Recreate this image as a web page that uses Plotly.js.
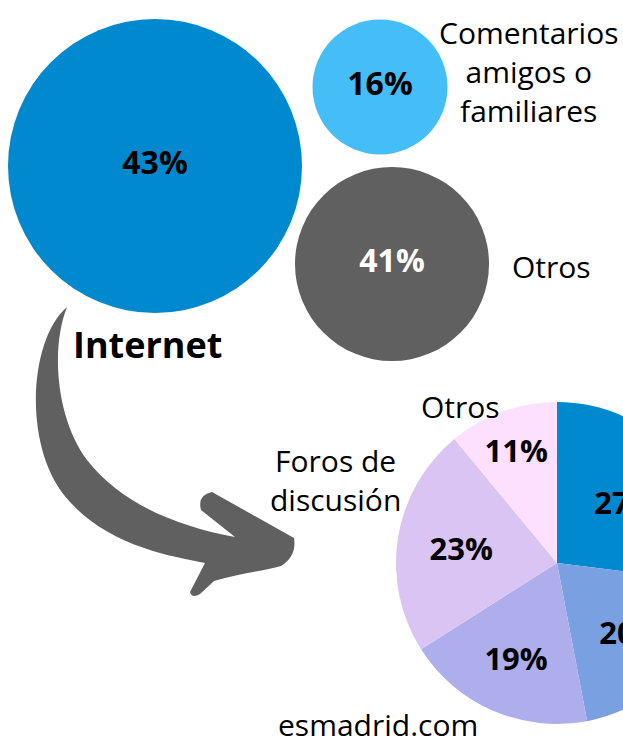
<!DOCTYPE html>
<html><head><meta charset="utf-8">
<script src="https://cdn.plot.ly/plotly-3.0.1.min.js"></script>
<style>html,body{margin:0;padding:0;overflow:hidden;background:#fff;width:623px;height:741px}</style>
</head><body><div id="chart"></div>
<script>
// Data
const bubbleLabels = ["Internet", "Comentarios<br>amigos o<br>familiares", "Otros"];
const bubbleValues = [43, 16, 41];
const pieLabels = ["", "", "esmadrid.com", "Foros de<br>discusión", "Otros"];
const pieValues = [27, 20, 19, 23, 11];

// Styles / layout
const W = 740, H = 741;
const bubbleX = [155, 380, 392];
const bubbleY = [166, 87, 264];
const bubbleD = [294, 135, 194];
const bubbleColors = ["#0089cf", "#45bdf7", "#606060"];
const bubbleTextColors = ["#000000", "#000000", "#ffffff"];
const bubbleLabelPos = [[147, 344, 36, 700], [529, 71, 30, 400], [551, 266, 30, 400]];
const pieColors = ["#0089cf", "#79a0e1", "#aeaeec", "#dac4f3", "#fde0fd"];
const pieLabelPos = [null, null, [378, 724], [335, 480], [460, 406]];
const FONT = "Open Sans";

const bubbleTrace = {
  type: "scatter", mode: "markers+text",
  x: bubbleX, y: bubbleY,
  text: bubbleValues.map(v => v + "%"),
  textposition: "middle center",
  textfont: {family: FONT, size: 32, weight: 700, color: bubbleTextColors},
  marker: {size: bubbleD, sizemode: "diameter", color: bubbleColors, line: {width: 0}, opacity: 1},
  cliponaxis: false, hoverinfo: "skip", showlegend: false
};

const pieTrace = {
  type: "pie", values: pieValues, labels: pieValues.map((v, i) => "s" + i),
  sort: false, direction: "clockwise", rotation: 0,
  marker: {colors: pieColors, line: {width: 0}},
  texttemplate: "%{value}%", textposition: "inside", insidetextorientation: "horizontal",
  textfont: {family: FONT, size: 31, weight: 700, color: "#000"},
  domain: {x: [396 / W, 718 / W], y: [(H - 724) / H, (H - 402) / H]},
  showlegend: false, hoverinfo: "skip"
};

const annotations = [];
bubbleLabels.forEach((t, i) => {
  const p = bubbleLabelPos[i];
  annotations.push({x: p[0], y: p[1], xref: "x", yref: "y", text: t, showarrow: false,
    font: {family: FONT, size: p[2], weight: p[3], color: "#000"}, align: "center"});
});
pieLabels.forEach((t, i) => {
  const p = pieLabelPos[i];
  if (!p || !t) return;
  annotations.push({x: p[0], y: p[1], xref: "x", yref: "y", text: t, showarrow: false,
    font: {family: FONT, size: 30, color: "#000"}, align: "center"});
});

const arrowPath = "M 67 307 C 28 340, 22 452, 70 502 C 110 546, 170 556, 205 563 " +
  "L 190 592 Q 192 599 200 594 L 214 581 C 240 573, 265 571, 281 566 Q 297 556 294 538 " +
  "L 212 492 Q 197 495 201 510 L 235 537 C 180 527, 122 505, 87 460 C 57 420, 50 350, 67 307 Z";

const layout = {
  width: W, height: H, margin: {l: 0, r: 0, t: 0, b: 0, pad: 0},
  paper_bgcolor: "#fff", plot_bgcolor: "#fff",
  xaxis: {range: [0, W], visible: false, fixedrange: true},
  yaxis: {range: [H, 0], visible: false, fixedrange: true},
  shapes: [{type: "path", xref: "x", yref: "y", path: arrowPath, fillcolor: "#606060", line: {width: 0}, layer: "below"}],
  annotations: annotations,
  font: {family: FONT}
};

Plotly.newPlot("chart", [bubbleTrace, pieTrace], layout, {displayModeBar: false, staticPlot: true});
</script></body></html>
